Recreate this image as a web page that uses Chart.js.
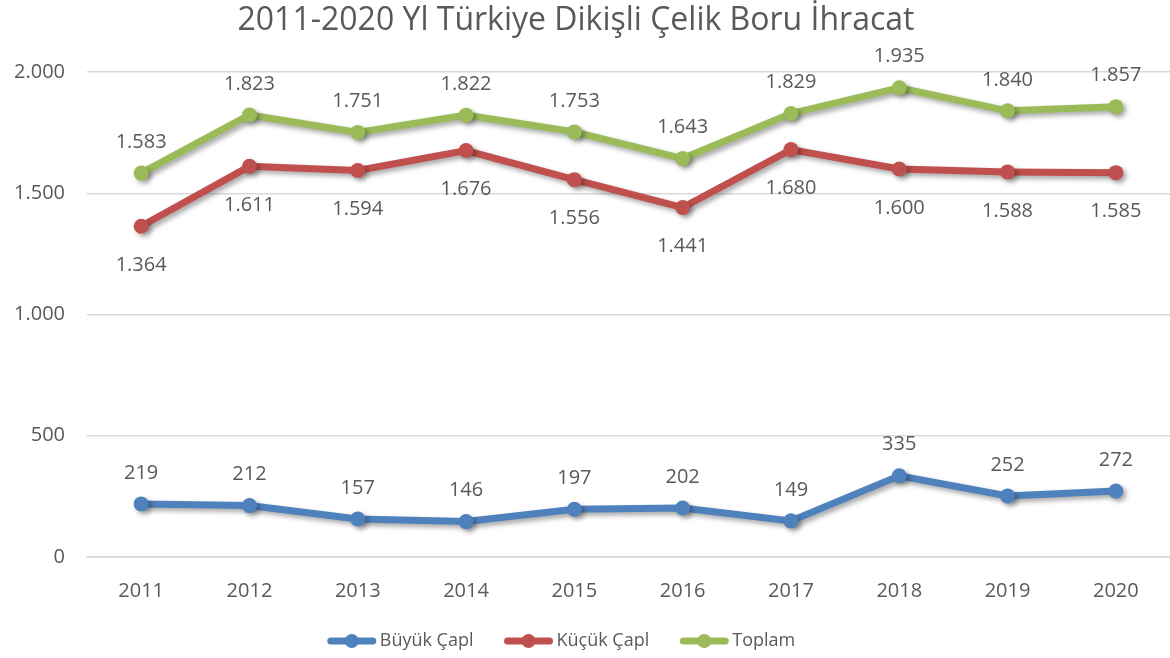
<!DOCTYPE html>
<html>
<head>
<meta charset="utf-8">
<script src="https://cdn.jsdelivr.net/npm/chart.js@4/dist/chart.umd.min.js"></script>
<style>
  html, body { margin: 0; padding: 0; background: #fff; }
  #wrap { width: 1170px; height: 658px; position: relative; }
</style>
</head>
<body>
<div id="wrap"><canvas id="exportChart"></canvas></div>
<script>
// Chart values
const YEARS = ["2011", "2012", "2013", "2014", "2015", "2016", "2017", "2018", "2019", "2020"]
const BUYUK = [219, 212, 157, 146, 197, 202, 149, 335, 252, 272]
const KUCUK = [1364, 1611, 1594, 1676, 1556, 1441, 1680, 1600, 1588, 1585]
const TOPLAM = [1583, 1823, 1751, 1822, 1753, 1643, 1829, 1935, 1840, 1857]
const SERIES_NAMES = ["Büyük Çapl", "Küçük Çapl", "Toplam"]
const TITLE = "2011-2020 Yl Türkiye Dikişli Çelik Boru İhracat"

const COLORS = ["#4F81BD", "#C0504D", "#9BBB59"]
const TEXT_COLOR = "#595959"
const FONT = "'Open Sans', sans-serif"

// 1583 -> "1.583"
function formatNum(v) {
    return String(v).replace(/\B(?=(\d{3})+(?!\d))/g, ".")
}

// title drawn by hand so it can sit a bit left of centre like the original
const titlePlugin = {
    id: "bigTitle",
    afterDraw(chart) {
        const ctx = chart.ctx
        ctx.save()
        ctx.font = "32px " + FONT
        ctx.fillStyle = TEXT_COLOR
        ctx.textAlign = "center"
        ctx.textBaseline = "middle"
        ctx.fillText(TITLE, 576, 21)
        ctx.restore()
    }
}

// drop shadow under each line
const shadowPlugin = {
    id: "lineShadow",
    beforeDatasetDraw(chart) {
        const ctx = chart.ctx
        ctx.save()
        ctx.shadowColor = "rgba(0,0,0,0.35)"
        ctx.shadowBlur = 5
        ctx.shadowOffsetX = 3
        ctx.shadowOffsetY = 3
    },
    afterDatasetDraw(chart) {
        chart.ctx.restore()
    }
}

// value labels: blue and green above, red below
const labelPlugin = {
    id: "valueLabels",
    afterDatasetsDraw(chart) {
        const ctx = chart.ctx
        ctx.save()
        ctx.font = "20px " + FONT
        ctx.fillStyle = TEXT_COLOR
        ctx.textAlign = "center"
        ctx.textBaseline = "middle"
        chart.data.datasets.forEach((ds, i) => {
            const meta = chart.getDatasetMeta(i)
            const offset = i === 1 ? 39 : -31
            meta.data.forEach((pt, j) => {
                ctx.fillText(formatNum(ds.data[j]), pt.x, pt.y + offset)
            })
        })
        ctx.restore()
    }
}

// legend drawn by hand: line with a dot, then the name
const legendPlugin = {
    id: "lineLegend",
    afterDraw(chart) {
        const ctx = chart.ctx
        const markerW = 50, gap = 3, itemGap = 30
        ctx.save()
        ctx.font = "18px " + FONT
        const items = chart.data.datasets.map((ds) => ({
            text: ds.label,
            color: ds.borderColor,
            w: markerW + gap + ctx.measureText(ds.label).width
        }))
        const total = items.reduce((s, it) => s + it.w, 0) + itemGap * (items.length - 1)
        let x = chart.width / 2 - 24 - total / 2
        const y = 641
        items.forEach((it) => {
            ctx.strokeStyle = it.color
            ctx.fillStyle = it.color
            ctx.lineWidth = 7
            ctx.lineCap = "round"
            ctx.beginPath()
            ctx.moveTo(x + 4, y)
            ctx.lineTo(x + markerW - 4, y)
            ctx.stroke()
            ctx.beginPath()
            ctx.arc(x + markerW / 2, y, 7, 0, Math.PI * 2)
            ctx.fill()
            ctx.fillStyle = TEXT_COLOR
            ctx.textAlign = "left"
            ctx.textBaseline = "middle"
            ctx.fillText(it.text, x + markerW + gap, y)
            x += it.w + itemGap
        })
        ctx.restore()
    }
}

const chartCanvas = document.getElementById("exportChart").getContext("2d")
const chart = new Chart(chartCanvas, {
    type: "line",
    data: {
        labels: YEARS,
        datasets: [BUYUK, KUCUK, TOPLAM].map((values, i) => ({
            label: SERIES_NAMES[i],
            data: values,
            borderColor: COLORS[i],
            backgroundColor: COLORS[i],
            borderWidth: 7,
            pointRadius: 7.5,
            pointHoverRadius: 7.5,
            pointBorderWidth: 0,
            pointStyle: "circle",
            tension: 0,
            fill: false
        }))
    },
    options: {
        responsive: true,
        maintainAspectRatio: false,
        animation: false,
        layout: { autoPadding: false, padding: { left: -8, right: 0, top: 72, bottom: 33 } },
        plugins: {
            title: { display: false },
            legend: { display: false },
            tooltip: { enabled: false }
        },
        scales: {
            x: {
                offset: true,
                grid: { display: false, drawTicks: false },
                border: { display: true, color: "#D9D9D9", width: 1.5 },
                ticks: {
                    color: TEXT_COLOR,
                    font: { family: FONT, size: 20 },
                    padding: 22
                }
            },
            y: {
                min: 0,
                max: 2000,
                grid: { color: "#D9D9D9", lineWidth: 1.5, drawTicks: false },
                border: { display: false },
                ticks: {
                    stepSize: 500,
                    color: TEXT_COLOR,
                    font: { family: FONT, size: 20 },
                    padding: 22,
                    callback: (v) => formatNum(v)
                }
            }
        }
    },
    plugins: [shadowPlugin, labelPlugin, legendPlugin, titlePlugin]
})
</script>
</body>
</html>
